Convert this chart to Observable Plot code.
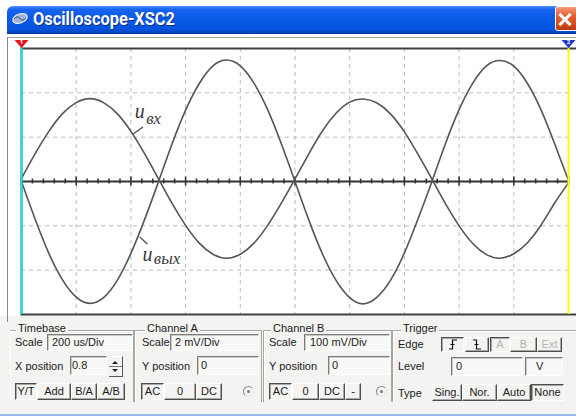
<!DOCTYPE html>
<html>
<head>
<meta charset="utf-8">
<script src="https://cdn.jsdelivr.net/npm/d3@7"></script>
<script src="https://cdn.jsdelivr.net/npm/@observablehq/plot@0.6"></script>
<style>
html,body{margin:0;padding:0;background:#fff;}
#win{position:relative;width:576px;height:416px;overflow:hidden;background:#fff;font-family:"Liberation Sans",Arial,sans-serif;font-size:11px;color:#1a1a1a;}
#win div,#win span{box-sizing:border-box;}
.a{position:absolute;}
.lbl{position:absolute;line-height:12px;white-space:nowrap;}
.box{position:absolute;border:1px solid;border-color:#7b7b7b #fff #fff #7b7b7b;box-shadow:inset 1px 1px 0 #c9c9c6;background:#f8f8f6;padding-left:4px;white-space:nowrap;overflow:hidden;}
.btn{position:absolute;text-align:center;border:1px solid;border-color:#fff #4d4d4d #4d4d4d #fff;box-shadow:inset -1px -1px 0 #a8a8a4;white-space:nowrap;}
.btn.on{border-color:#4d4d4d #fff #fff #4d4d4d;box-shadow:inset 1px 1px 0 #a8a8a4;}
.off{color:#b4b4b0;}
.grp{position:absolute;top:330px;height:72px;border:1px solid #a8a8a3;border-bottom:none;box-shadow:inset 1px 1px 0 #fff;}
.leg{position:absolute;top:-9px;line-height:12px;background:#f3f3f1;padding:0 2px;white-space:nowrap;}
.radio{position:absolute;width:11px;height:11px;border-radius:50%;border:1px solid;border-color:#8a8a8a #e6e6e6 #e6e6e6 #8a8a8a;}
.radio i{position:absolute;left:3px;top:3px;width:3px;height:3px;border-radius:50%;background:#777;}
</style>
</head>
<body>
<div id="win">
  <!-- display area (Plot SVG) -->
  <div id="plot" class="a" style="left:0;top:34px;"></div>

  <!-- title bar -->
  <div class="a" style="left:7px;top:6px;width:569px;height:28px;border-top-left-radius:6px;background:linear-gradient(180deg,#4a90fb 0%,#1864f0 12%,#0759e8 50%,#0552dc 85%,#0b3ea6 100%);"></div>
  <svg class="a" style="left:11px;top:12px;" width="18" height="13" viewBox="0 0 18 13">
    <ellipse cx="9" cy="6.5" rx="7.5" ry="4.5" fill="#9fb4d8" stroke="#e8eefa" stroke-width="1.2" transform="rotate(-20 9 6.5)"/>
    <path d="M3 7 Q6 3 9 6.5 T15 6" fill="none" stroke="#3a4f7a" stroke-width="1"/>
  </svg>
  <span id="ttl" class="a" style="left:33px;top:9px;font:700 17.5px Roboto,'DejaVu Sans',sans-serif;line-height:20px;color:#fff;text-shadow:1px 1px 0 #0b2f8f;white-space:nowrap;transform-origin:0 50%;">Oscilloscope-XSC2</span>
  <div class="a" style="left:555px;top:6px;width:24px;height:25px;border:1px solid #fff;border-radius:3px;background:linear-gradient(180deg,#f59a7c 0%,#e5643a 35%,#d44a1c 75%,#b83a12 100%);"></div>
  <div class="a" style="left:557px;top:17.5px;width:16px;height:3px;background:#fff;transform:rotate(45deg);"></div>
  <div class="a" style="left:557px;top:17.5px;width:16px;height:3px;background:#fff;transform:rotate(-45deg);"></div>

  <!-- display border -->
  <div class="a" style="left:7px;top:37px;width:569px;height:1px;background:#a4a4a4;"></div>
  <div class="a" style="left:7px;top:37px;width:1px;height:285px;background:#8a8a8a;"></div>

  <!-- control panel -->
  <div class="a" style="left:0;top:316px;width:576px;height:98px;background:#f3f3f1;"></div>
  <div class="a" style="left:7px;top:316px;width:1px;height:6px;background:#8a8a8a;"></div>
  <div class="a" style="left:0;top:414px;width:576px;height:2px;background:#9bb8ee;"></div>

  <!-- Timebase -->
  <div class="grp" style="left:10px;width:124px;border-left:none;"><span class="leg" style="left:6px;">Timebase</span></div>
  <span class="lbl" style="left:15px;top:336px;">Scale</span>
  <div class="box" style="left:47px;top:334px;width:86px;height:17px;line-height:15px;">200 us/Div</div>
  <span class="lbl" style="left:15px;top:360px;">X position</span>
  <div class="box" style="left:70px;top:356px;width:37px;height:19px;line-height:17px;padding-left:1px;">0.8</div>
  <div class="a" style="left:109px;top:356px;width:14px;height:21px;border-top:1px solid #fff;border-right:1px solid #555;border-bottom:1px solid #555;">
    <div class="a" style="left:3px;top:4px;width:0;height:0;border-left:3px solid transparent;border-right:3px solid transparent;border-bottom:3px solid #222;"></div>
    <div class="a" style="left:0;top:9px;width:13px;height:1px;background:#777;"></div>
    <div class="a" style="left:3px;top:12px;width:0;height:0;border-left:3px solid transparent;border-right:3px solid transparent;border-top:3px solid #222;"></div>
  </div>
  <div class="btn on" style="left:15px;top:383px;width:22px;height:17px;line-height:15px;">Y/T</div>
  <div class="btn" style="left:37px;top:383px;width:34px;height:17px;line-height:15px;">Add</div>
  <div class="btn" style="left:71px;top:383px;width:26px;height:17px;line-height:15px;">B/A</div>
  <div class="btn" style="left:97px;top:383px;width:28px;height:17px;line-height:15px;">A/B</div>

  <!-- Channel A -->
  <div class="grp" style="left:134px;width:128px;"><span class="leg" style="left:10px;">Channel A</span></div>
  <span class="lbl" style="left:142px;top:336px;">Scale</span>
  <div class="box" style="left:170px;top:334px;width:89px;height:17px;line-height:15px;">2 mV/Div</div>
  <span class="lbl" style="left:142px;top:360px;">Y position</span>
  <div class="box" style="left:197px;top:356px;width:62px;height:19px;line-height:17px;padding-left:3px;">0</div>
  <div class="btn on" style="left:141px;top:383px;width:23px;height:17px;line-height:15px;">AC</div>
  <div class="btn" style="left:164px;top:383px;width:32px;height:17px;line-height:15px;">0</div>
  <div class="btn" style="left:196px;top:383px;width:26px;height:17px;line-height:15px;">DC</div>
  <div class="radio" style="left:243px;top:386px;"><i></i></div>

  <!-- Channel B -->
  <div class="grp" style="left:263px;width:129px;"><span class="leg" style="left:7px;">Channel B</span></div>
  <span class="lbl" style="left:269px;top:336px;">Scale</span>
  <div class="box" style="left:304px;top:334px;width:86px;height:17px;line-height:15px;padding-left:5px;">100 mV/Div</div>
  <span class="lbl" style="left:269px;top:360px;">Y position</span>
  <div class="box" style="left:328px;top:356px;width:62px;height:19px;line-height:17px;padding-left:3px;">0</div>
  <div class="btn on" style="left:269px;top:383px;width:23px;height:17px;line-height:15px;">AC</div>
  <div class="btn" style="left:292px;top:383px;width:27px;height:17px;line-height:15px;">0</div>
  <div class="btn" style="left:319px;top:383px;width:26px;height:17px;line-height:15px;">DC</div>
  <div class="btn" style="left:345px;top:383px;width:16px;height:17px;line-height:15px;">-</div>
  <div class="radio" style="left:376px;top:386px;"><i></i></div>

  <!-- Trigger -->
  <div class="grp" style="left:392px;width:200px;"><span class="leg" style="left:8px;">Trigger</span></div>
  <span class="lbl" style="left:398px;top:338px;">Edge</span>
  <div class="btn on" style="left:441px;top:337px;width:23px;height:15px;">
    <svg class="a" style="left:6px;top:1px;" width="10" height="11"><path d="M1 10H4.5V1H9M2.5 5.5H6.5" fill="none" stroke="#111" stroke-width="1.2"/></svg>
  </div>
  <div class="btn" style="left:465px;top:337px;width:24px;height:15px;">
    <svg class="a" style="left:6px;top:1px;" width="10" height="11"><path d="M1 1H4.5V10H9M2.5 5.5H6.5" fill="none" stroke="#111" stroke-width="1.2"/></svg>
  </div>
  <div class="btn on off" style="left:490px;top:337px;width:20px;height:15px;line-height:13px;">A</div>
  <div class="btn off" style="left:510px;top:337px;width:27px;height:15px;line-height:13px;">B</div>
  <div class="btn off" style="left:537px;top:337px;width:25px;height:15px;line-height:13px;">Ext</div>
  <span class="lbl" style="left:398px;top:360px;">Level</span>
  <div class="box" style="left:451px;top:357px;width:72px;height:19px;line-height:17px;padding-left:4px;">0</div>
  <div class="box" style="left:525px;top:357px;width:38px;height:19px;line-height:17px;padding-left:10px;">V</div>
  <span class="lbl" style="left:398px;top:387px;">Type</span>
  <div class="btn" style="left:432px;top:384px;width:30px;height:17px;line-height:15px;">Sing.</div>
  <div class="btn" style="left:462px;top:384px;width:35px;height:17px;line-height:15px;">Nor.</div>
  <div class="btn" style="left:497px;top:384px;width:34px;height:17px;line-height:15px;">Auto</div>
  <div class="btn on" style="left:531px;top:384px;width:33px;height:17px;line-height:15px;">None</div>
</div>

<script>
// ---- Instrument settings ----
const timebaseUs = 200;   // Timebase scale, us/Div
const scaleA_mV = 2;      // Channel A scale, mV/Div  (u_вх)
const scaleB_mV = 100;    // Channel B scale, mV/Div  (u_вых)

const timeUs = [0,50,100,150,200,250,300,350,400,450,500,550,600,650,700,750,800,850,900,950,
                1000,1050,1100,1150,1200,1250,1300,1350,1400,1450,1500,1550,1600,1650,1700,1750,1800,1850,1900,1950,2000];
const uIn_mV = [0.14,1.26,2.26,3.06,3.56,3.74,3.56,3.06,2.26,1.26,
                0.14,-0.98,-1.98,-2.78,-3.28,-3.46,-3.28,-2.78,-1.98,-0.98,
                0.12,1.24,2.28,3.08,3.58,3.72,3.54,3.04,2.24,1.22,
                0.12,-1.00,-2.00,-2.80,-3.30,-3.46,-3.26,-2.76,-1.96,-0.96,-0.06];
const uOut_mV = [0,-85,-162,-222,-261,-275,-262,-223,-162,-86,
                 -2,84,161,221,261,274,261,222,162,85,
                 0,-86,-163,-223,-262,-276,-261,-222,-161,-84,
                 -1,85,162,222,261,273,260,221,161,84,2];

// ---- Trace labels (positions in screen divisions) ----
const labelMain = [{x:2.07, y:1.58, t:"u"}, {x:2.21, y:-1.66, t:"u"}];
const labelSub  = [{x:2.28, y:1.42, t:"вх"}, {x:2.42, y:-1.74, t:"вых"}];
const leaders   = [{x1:2.04, y1:1.07, x2:2.22, y2:1.23}, {x1:2.16, y1:-1.25, x2:2.30, y2:-1.41}];

// ---- Screen grid: 10 x 6 divisions ----
const gridX = [1,2,3,4,5,6,7,8,9];
const gridY = [-2,-1,1,2];
const majorTicks = d3.range(0, 11);
const minorTicks = d3.range(0, 51).filter(i => i % 5).map(i => i / 5);
const cursors = [{x:0, y:3, n:"1"}, {x:10, y:3, n:"2"}];

const rows = timeUs.map((t, i) => ({x: t / timebaseUs, a: uIn_mV[i] / scaleA_mV, b: uOut_mV[i] / scaleB_mV}));

const downTri = {draw(ctx) { ctx.moveTo(-7, -4); ctx.lineTo(7, -4); ctx.lineTo(0, 4); ctx.closePath(); }};

const chart = Plot.plot({
  width: 576, height: 282,
  marginLeft: 21, marginRight: 8, marginTop: 14, marginBottom: 2,
  x: {domain: [0, 10], axis: null},
  y: {domain: [-3, 3], axis: null},
  style: {background: "white", overflow: "visible"},
  marks: [
    Plot.ruleX(gridX, {stroke: "#bcbcbc", strokeDasharray: "4,4"}),
    Plot.ruleY(gridY, {stroke: "#bcbcbc", strokeDasharray: "4,4"}),
    Plot.ruleY([0], {stroke: "#333", strokeWidth: 2}),
    Plot.ruleX(minorTicks, {x: d => d, y1: -0.055, y2: 0.055, stroke: "#333", strokeWidth: 1.6}),
    Plot.ruleX(majorTicks, {x: d => d, y1: -0.1, y2: 0.1, stroke: "#333", strokeWidth: 1.6}),
    Plot.line(rows, {x: "x", y: "a", curve: "natural", stroke: "#555", strokeWidth: 1.6}),
    Plot.line(rows, {x: "x", y: "b", curve: "natural", stroke: "#555", strokeWidth: 1.6}),
    Plot.link(leaders, {x1: "x1", y1: "y1", x2: "x2", y2: "y2", stroke: "#444", strokeWidth: 1.2}),
    Plot.text(labelMain, {x: "x", y: "y", text: "t", textAnchor: "start", lineAnchor: "middle",
      fontFamily: "Liberation Serif, serif", fontStyle: "italic", fontSize: 20, fill: "#3a3a3a"}),
    Plot.text(labelSub, {x: "x", y: "y", text: "t", textAnchor: "start", lineAnchor: "middle",
      fontFamily: "Liberation Serif, serif", fontStyle: "italic", fontSize: 17, fill: "#3a3a3a"}),
    Plot.frame({stroke: "#3f3f3f", strokeWidth: 2, insetRight: -10}),
    Plot.ruleX([cursors[0]], {x: "x", stroke: "#1de6f5", strokeWidth: 2}),
    Plot.ruleX([cursors[1]], {x: "x", stroke: "#ffff00", strokeWidth: 2}),
    Plot.dot([cursors[0]], {x: "x", y: "y", dy: -4.5, symbol: downTri, fill: "#e5141a", stroke: "none"}),
    Plot.dot([cursors[1]], {x: "x", y: "y", dy: -4.5, symbol: downTri, fill: "#1f36d6", stroke: "none"}),
    Plot.text(cursors, {x: "x", y: "y", dy: -6, text: "n", fill: "white", fontSize: 6, fontWeight: "bold"})
  ]
});
document.getElementById("plot").appendChild(chart);

// fit the title text to the caption width of the original
const ttl = document.getElementById("ttl");
const w = ttl.getBoundingClientRect().width;
if (w > 0) ttl.style.transform = `scaleX(${142 / w})`;
</script>
</body>
</html>
